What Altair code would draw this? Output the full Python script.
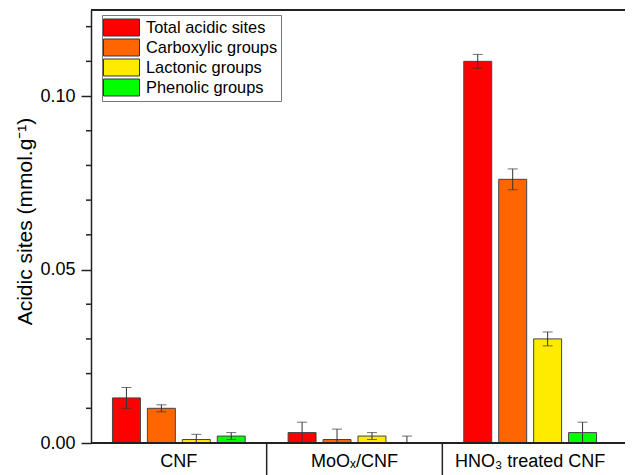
import altair as alt
import pandas as pd

samples = ["CNF", "MoOₓ/CNF", "HNO₃ treated CNF"]
series = ["Total acidic sites", "Carboxylic groups", "Lactonic groups", "Phenolic groups"]
colors = ["#FF0000", "#FF6600", "#FFEB00", "#00FF00"]

total = [0.013, 0.003, 0.110]
carboxylic = [0.010, 0.001, 0.076]
lactonic = [0.001, 0.002, 0.030]
phenolic = [0.002, 0.000, 0.003]

total_err = [0.003, 0.003, 0.002]
carboxylic_err = [0.001, 0.003, 0.003]
lactonic_err = [0.0015, 0.001, 0.002]
phenolic_err = [0.001, 0.002, 0.003]

y_ticks = [0.0, 0.05, 0.10]
minor_ticks = [0.01, 0.02, 0.03, 0.04, 0.06, 0.07, 0.08, 0.09, 0.11, 0.12]

rows = []
for name, vals, errs in zip(series,
                            [total, carboxylic, lactonic, phenolic],
                            [total_err, carboxylic_err, lactonic_err, phenolic_err]):
    for s, v, e in zip(samples, vals, errs):
        rows.append({"sample": s, "series": name, "value": v,
                     "lo": max(0.0, v - e), "hi": v + e})
df = pd.DataFrame(rows)
sep_df = pd.DataFrame({"sample": samples[1:]})
minor_df = pd.DataFrame({"v": minor_ticks})

W, H = 534, 433
FONT = "Liberation Sans"
INK = "#222222"

x_scale = alt.Scale(domain=samples, range=[0, 527], paddingInner=0, paddingOuter=0)
x_axis = alt.Axis(title=None, domain=False, ticks=False, labelFontSize=18,
                  labelFont=FONT, labelColor="black", labelPadding=9, labelAngle=0)
y_scale = alt.Scale(domain=[0, 0.1248], nice=False, zero=True)
y_axis = alt.Axis(title="Acidic sites (mmol.g⁻¹)", values=y_ticks, format=".2f",
                  labelFontSize=18, labelFont=FONT, labelColor="black", labelPadding=6,
                  tickSize=10, tickWidth=1.5, tickColor=INK, domainColor=INK,
                  domainWidth=1.5, grid=False, titleFont=FONT, titleFontSize=21,
                  titleFontWeight="normal", titleColor="black", titlePadding=4,
                  titleY=211)
off_scale = alt.Scale(domain=series, paddingInner=0.2, paddingOuter=0.614)

X = alt.X("sample:N", scale=x_scale, axis=x_axis, sort=samples)
XO = alt.XOffset("series:N", scale=off_scale, sort=series)

bars = alt.Chart(df).mark_bar(stroke="#444444", strokeWidth=1).encode(
    x=X,
    xOffset=XO,
    y=alt.Y("value:Q", scale=y_scale, axis=y_axis),
    color=alt.Color("series:N", sort=series,
                    scale=alt.Scale(domain=series, range=colors),
                    legend=alt.Legend(
                        title=None, orient="none", legendX=11, legendY=5,
                        symbolType="M-2,-0.944H2V0.944H-2Z", symbolSize=324,
                        symbolStrokeColor="#333333", symbolStrokeWidth=1,
                        symbolOffset=7, labelOffset=15,
                        labelFont=FONT, labelFontSize=16.4, labelColor="black",
                        rowPadding=-3, padding=3, strokeColor="#777777",
                        fillColor="white", labelLimit=300)),
)

err_line = alt.Chart(df).mark_rule(color="#333333", strokeWidth=1).encode(
    x=X, xOffset=XO,
    y=alt.Y("lo:Q", scale=y_scale, axis=y_axis), y2="hi:Q",
)
cap_hi = alt.Chart(df).mark_tick(color="#333333", thickness=1, size=10).encode(
    x=X, xOffset=XO, y=alt.Y("hi:Q", scale=y_scale, axis=y_axis),
)
cap_lo = alt.Chart(df).mark_tick(color="#333333", thickness=1, size=10).encode(
    x=X, xOffset=XO, y=alt.Y("lo:Q", scale=y_scale, axis=y_axis),
)

minor = alt.Chart(minor_df).mark_rule(color=INK, strokeWidth=1.5).encode(
    x=alt.value(-5), x2=alt.value(0),
    y=alt.Y("v:Q", scale=y_scale, axis=y_axis),
)

frame_top = alt.Chart(minor_df).mark_rule(color=INK, strokeWidth=2).encode(
    x=alt.value(0), x2=alt.value(W), y=alt.value(0))
frame_bottom = alt.Chart(minor_df).mark_rule(color=INK, strokeWidth=1.5).encode(
    x=alt.value(0), x2=alt.value(W), y=alt.value(H))

seps = alt.Chart(sep_df).mark_rule(color=INK, strokeWidth=1.5).encode(
    x=alt.X("sample:N", scale=x_scale, axis=x_axis, sort=samples, bandPosition=0),
    y=alt.value(H), y2=alt.value(H + 32),
)

chart = alt.layer(bars, err_line, cap_hi, cap_lo, minor, frame_top, frame_bottom, seps).properties(
    width=W, height=H,
    autosize=alt.AutoSizeParams(type="none"),
    padding={"left": 83, "top": 2, "right": 0, "bottom": 32},
    background="white",
).configure_view(stroke=None)

chart.save("out.html", embed_options={"renderer": "svg", "actions": False})
